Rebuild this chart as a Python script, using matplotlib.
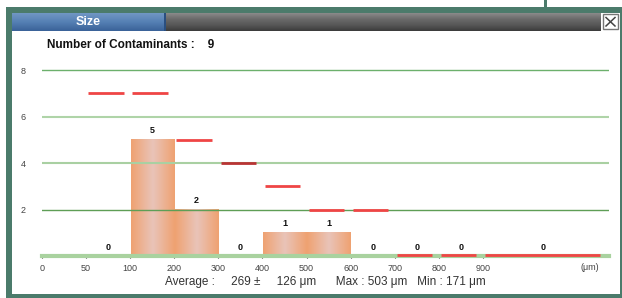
import numpy as np
import matplotlib
matplotlib.use('Agg')
import matplotlib.pyplot as plt
from matplotlib.patches import Rectangle
from matplotlib.colors import LinearSegmentedColormap

plt.rcParams['font.family'] = ['Liberation Sans', 'DejaVu Sans']

# Data
tick_labels = ['0', '50', '100', '200', '300', '400', '500', '600', '700', '800', '900']
counts = [None, 0, 5, 2, 0, 1, 1, 0, 0, 0, 0]   # bin between tick i and i+1 (last: 900+)
limits = [None, 7, 7, 5, 4, 3, 2, 2, 0, 0, 0]   # red limit line per bin
grid_levels = [2, 4, 6, 8]
grid_colors = ['#5e9e56', '#a9d0a2', '#afd4a8', '#6cb06c']
n_contaminants = 9
avg, std, vmax, vmin = 269, 126, 503, 171

W, H = 622, 298
teal = '#4b7b6b'

fig = plt.figure(figsize=(W / 100, H / 100), dpi=100)

# ---- frame / window decoration in pixel coords
bg = fig.add_axes([0, 0, 1, 1])
bg.set_xlim(0, W)
bg.set_ylim(H, 0)
bg.axis('off')
bg.add_patch(Rectangle((0, 0), W, H, facecolor='white', edgecolor='none'))
bg.add_patch(Rectangle((6, 7), W - 6, H - 7, facecolor=teal, edgecolor='none'))
bg.add_patch(Rectangle((12, 13), 608, 281, facecolor='white', edgecolor='none'))
bg.add_patch(Rectangle((544, 0), 3, 8, facecolor=teal, edgecolor='none'))

# blue tab gradient
blue = LinearSegmentedColormap.from_list('b', ['#7197c4', '#5580b4', '#3a6298'])
grad = np.linspace(0, 1, 50).reshape(-1, 1)
bg.imshow(grad, cmap=blue, extent=(12, 165, 31, 13), aspect='auto', zorder=2)
# gray bar gradient
gray = LinearSegmentedColormap.from_list('g', ['#8a8a8a', '#6a6a6a', '#575757', '#3c3c3c'])
bg.imshow(grad, cmap=gray, extent=(165, 601, 31, 13), aspect='auto', zorder=2)
bg.add_patch(Rectangle((164, 13), 1.5, 18, facecolor='#2a4f80', edgecolor='none', zorder=3))
bg.set_xlim(0, W)
bg.set_ylim(H, 0)
bg.text(88, 22, 'Size', color='white', fontsize=9, fontweight='bold',
        ha='center', va='center', zorder=4)

# close button
bg.add_patch(Rectangle((603, 14), 15, 15, facecolor='white', edgecolor='#777777', lw=1, zorder=3))
bg.plot([606, 615], [17.5, 26], color='#444444', lw=1.1, zorder=4)
bg.plot([606, 615], [26, 17.5], color='#444444', lw=1.1, zorder=4)

bg.text(47, 45, 'Number of Contaminants :    %d' % n_contaminants, fontsize=8.5,
        fontweight='bold', ha='left', va='center', color='#111111')
bg.text(165, 282, 'Average :     %d \u00b1     %d \u03bcm      Max : %d \u03bcm   Min : %d \u03bcm'
        % (avg, std, vmax, vmin), fontsize=8.5, ha='left', va='center', color='#333333')

# ---- chart axes
ax = fig.add_axes([42 / W, 42 / H, 567 / W, (256 - 58.4) / H])
ax.patch.set_alpha(0)
x_max = 12.86
y_max = 8.5

bar_cmap = LinearSegmentedColormap.from_list('bar', ['#efa272', '#e9c4b9', '#efa272'])
hgrad = np.linspace(0, 1, 64).reshape(1, -1)

n = len(tick_labels)
lefts = np.arange(n)
widths = [1.0] * (n - 1) + [2.75]

for i in range(n):
    c = counts[i]
    if c is None:
        continue
    x0, w = lefts[i], widths[i]
    if c > 0:
        ax.imshow(hgrad, cmap=bar_cmap, extent=(x0 + 0.01, x0 + w - 0.01, 0, c),
                  aspect='auto', zorder=1, interpolation='bilinear')
    ax.text(x0 + w / 2, c + 0.38, str(c), ha='center', va='center', fontsize=6.5,
            fontweight='bold', color='#111111', zorder=5)
    lim = limits[i]
    if lim is not None:
        col = '#b83434' if lim == 4 else '#ef4545'
        yl = lim + 0.06 if lim == 0 else lim
        ax.plot([x0 + 0.05, x0 + w - 0.1 if i == n - 1 else x0 + 0.85], [yl, yl],
                color=col, lw=2, zorder=4, solid_capstyle='butt', clip_on=False)

for lv, gc in zip(grid_levels, grid_colors):
    ax.axhline(lv, color=gc, lw=1.0 if lv in (2, 8) else 1.5, zorder=3)

ax.axhline(0, color='#a9d29f', lw=3, zorder=2, clip_on=False)

ax.set_xlim(0, x_max)
ax.set_ylim(0, y_max)
for s in ax.spines.values():
    s.set_visible(False)
ax.set_xticks(lefts)
ax.set_xticklabels(tick_labels, fontsize=6.5, color='#444444')
ax.tick_params(axis='x', length=3, width=0.8, color='#222222', pad=4, direction='inout')
ax.set_yticks(grid_levels)
ax.set_yticklabels([str(v) for v in grid_levels], fontsize=6.5, color='#444444')
ax.tick_params(axis='y', length=0, pad=12)
ax.text(12.43, -0.5, '(\u03bcm)', fontsize=6.5, color='#444444', ha='center', va='center')

fig.savefig('out.png', dpi=100)
